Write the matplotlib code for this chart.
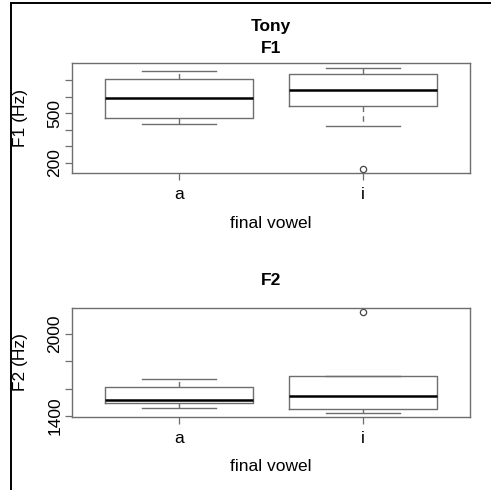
import matplotlib
matplotlib.use("Agg")
import matplotlib.pyplot as plt
from matplotlib.lines import Line2D

plt.rcParams['font.family'] = ['Liberation Sans', 'DejaVu Sans']

vowels = ['a', 'i']

# F1 summary (Hz)
f1_whislo = [438, 420]
f1_q1 = [472, 542]
f1_med = [590, 640]
f1_q3 = [708, 736]
f1_whishi = [754, 772]
f1_fliers = [[], [166]]

# F2 summary (Hz)
f2_whislo = [1458, 1420]
f2_q1 = [1492, 1453]
f2_med = [1516, 1545]
f2_q3 = [1613, 1693]
f2_whishi = [1667, 1693]
f2_fliers = [[], [2160]]

grey = '#6e6e6e'
fs = 12.5


def draw_panel(ax, lo, q1, med, q3, hi, fl, yticks, ylabels, ylim, ylab):
    stats = []
    for i in range(len(vowels)):
        stats.append(dict(label=vowels[i], whislo=lo[i], q1=q1[i], med=med[i],
                          q3=q3[i], whishi=hi[i], fliers=fl[i]))
    ax.bxp(stats, positions=[1, 2], widths=0.8, patch_artist=False,
           boxprops=dict(color=grey, linewidth=1),
           whiskerprops=dict(color=grey, linewidth=1, linestyle=(0, (4, 3))),
           capprops=dict(color=grey, linewidth=1),
           capwidths=0.4,
           medianprops=dict(color='black', linewidth=1.8),
           flierprops=dict(marker='o', markersize=4.5, markerfacecolor='white',
                           markeredgecolor='#444444', markeredgewidth=0.9))
    ax.set_xlim(0.42, 2.58)
    ax.set_ylim(*ylim)
    ax.set_yticks(yticks)
    ax.set_yticklabels(ylabels, rotation=90, va='center', fontsize=fs)
    ax.set_xticks([1, 2])
    ax.set_xticklabels(vowels, fontsize=fs)
    ax.tick_params(colors=grey, labelcolor='black', length=5, width=0.9)
    ax.tick_params(axis='x', pad=5)
    ax.tick_params(axis='y', pad=2)
    ax.set_xlabel('final vowel', fontsize=fs, labelpad=10)
    ax.set_ylabel(ylab, fontsize=fs)
    ax.yaxis.set_label_coords(-0.11, 0.5)
    for s in ax.spines.values():
        s.set_color(grey)
        s.set_linewidth(1)


fig = plt.figure(figsize=(4.91, 4.90), dpi=100)

ax1 = fig.add_axes([0.1466, 0.6469, 0.8106, 0.2245])
draw_panel(ax1, f1_whislo, f1_q1, f1_med, f1_q3, f1_whishi, f1_fliers,
           [200, 300, 400, 500, 600, 700], ['200', '', '', '500', '', ''],
           (140, 802), 'F1 (Hz)')
ax1.set_title('Tony\nF1', fontsize=fs, fontweight='bold', pad=7, linespacing=1.6)

ax2 = fig.add_axes([0.1466, 0.1496, 0.8106, 0.2224])
draw_panel(ax2, f2_whislo, f2_q1, f2_med, f2_q3, f2_whishi, f2_fliers,
           [1400, 1600, 1800, 2000], ['1400', '', '', '2000'],
           (1395, 2189), 'F2 (Hz)')
ax2.set_title('F2', fontsize=fs, fontweight='bold', pad=16)

# screenshot frame on the left and top edges
fig.add_artist(Line2D([11 / 491, 11 / 491], [0, 1 - 3 / 490], color='black', linewidth=1.4))
fig.add_artist(Line2D([11 / 491, 1], [1 - 3 / 490, 1 - 3 / 490], color='black', linewidth=1.4))

fig.savefig('out.png', dpi=100)
